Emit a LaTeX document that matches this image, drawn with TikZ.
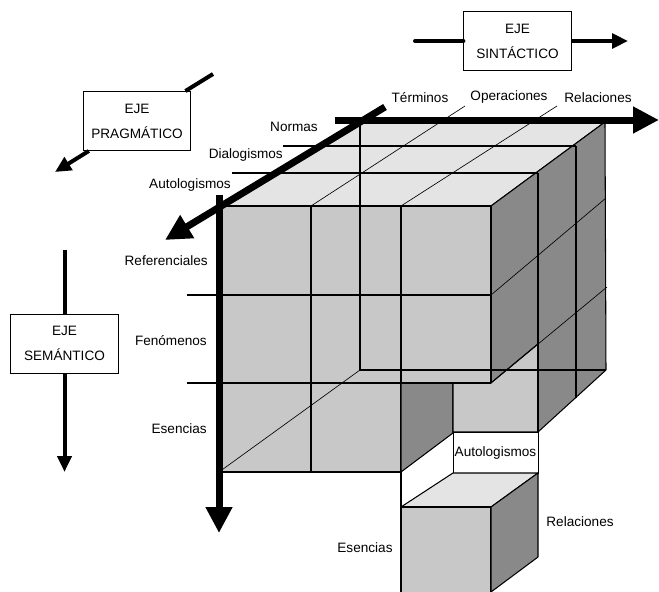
\documentclass[tikz,border=0pt]{standalone}
\usepackage{fontspec}
\usepackage{tikz}
\setmainfont{Liberation Sans}
\definecolor{color01}{HTML}{E4E4E4}
\definecolor{color02}{HTML}{C8C8C8}
\definecolor{color03}{HTML}{898989}
\usetikzlibrary{arrows.meta, calc}

\begin{document}
\begin{tikzpicture}[x=0.3mm, y=-0.3mm]

  \tikzstyle{cara} = [%
  draw=black,
  line join=round,
  line width=0.9pt,
  ];
  \tikzstyle{raya} = [%
  draw=black,
  line width=0.9pt,
  ];
  \tikzstyle{fina} = [%
  draw=black,
  line width=0.55pt,
  ];
  \tikzstyle{eje} = [%
  line width=2.1mm,
  -{Triangle[length=7.8mm, width=7.6mm]},
  ];
  \tikzstyle{ejefino} = [%
  line width=1.2mm,
  ];
  \tikzstyle{caja} = [%
  align=center,
  draw=black,
  fill=white,
  font=\fontsize{11.6}{21.3}\selectfont,
  line width=0.8pt,
  minimum height=17.7mm,
  minimum width=32.2mm,
  rectangle,
  ];
  \tikzstyle{rotulo} = [%
  font=\fontsize{11.6}{14}\selectfont,
  inner sep=0pt,
  ];

  \useasboundingbox (0,0) rectangle (659,592);
  \clip (0,0) rectangle (659,592);

  \filldraw[cara, fill=color01] (219,206) -- (360,122) -- (605,122) -- (491,206) -- cycle;
  \filldraw[cara, fill=color03] (491,206) -- (605,122) -- (606,370) -- (538,432)
    -- (538,344) -- (491,383) -- cycle;
  \filldraw[cara, fill=color02] (219,206) -- (491,206) -- (491,383) -- (401,383)
    -- (401,472) -- (219,472) -- cycle;
  \filldraw[cara, fill=color03] (401,383) -- (453,383) -- (453,433) -- (401,472) -- cycle;
  \filldraw[cara, fill=color02] (453,383) -- (491,383) -- (538,344) -- (538,432)
    -- (453,432) -- cycle;

  \draw[raya] (311,206) -- (311,472);
  \draw[raya] (401,206) -- (401,383);
  \draw[raya] (187,295) -- (491,295);
  \draw[raya] (187,383) -- (491,383);
  \draw[raya] (283,146) -- (576,146);
  \draw[raya] (232,173) -- (538,173);
  \draw[raya] (538,173) -- (538,432);
  \draw[raya] (576,146) -- (576,398);
  \draw[raya] (360,122) -- (360,370) -- (606,370);
  \draw[fina] (219,472) -- (360,370);
  \draw[fina] (311,206) -- (465,106);
  \draw[fina] (401,206) -- (557,106);
  \draw[fina] (491,295) -- (606,198);
  \draw[fina] (491,383) -- (607,287);
  \draw[raya] (401,472) -- (401,507);

  \node[draw=black, fill=white, line width=0.8pt, inner sep=0pt,
    minimum width=25.5mm, minimum height=12.3mm,
    font=\fontsize{11.6}{14}\selectfont] (autoCaja) at (495.5,452.5) {Autologismos};

  \filldraw[cara, fill=color01] (401,507) -- (453,473) -- (538,473) -- (491,507) -- cycle;
  \filldraw[cara, fill=color02] (401,507) -- (491,507) -- (491,620) -- (401,620) -- cycle;
  \filldraw[cara, fill=color03] (491,507) -- (538,473) -- (538,557) -- (491,592) -- cycle;

  \node[rotulo] (terminos) at (420,98) {Términos};
  \node[rotulo] (operaciones) at (509,97) {Operaciones};
  \node[rotulo] (relaciones) at (598,98) {Relaciones};
  \node[rotulo, anchor=east] (normas) at (318,127) {Normas};
  \node[rotulo, anchor=east] (dialogismos) at (283,155) {Dialogismos};
  \node[rotulo, anchor=east] (autologismos) at (231,185) {Autologismos};
  \node[rotulo, anchor=east] (referenciales) at (208,261) {Referenciales};
  \node[rotulo, anchor=east] (fenomenos) at (207,341) {Fenómenos};
  \node[rotulo, anchor=east] (esencias) at (207,429) {Esencias};
  \node[rotulo] (relacionesB) at (580,522) {Relaciones};
  \node[rotulo] (esenciasB) at (365,548) {Esencias};

  \coordinate (semArriba) at (219,195);
  \coordinate (semAbajo) at (219,533);
  \coordinate (pragArriba) at (385,107);
  \coordinate (pragAbajo) at (165,240);
  \coordinate (sinIzq) at (335,120);
  \coordinate (sinDer) at (659,120);
  \draw[eje] (semArriba) -- (semAbajo);
  \draw[eje] (pragArriba) -- (pragAbajo);
  \draw[eje] (sinIzq) -- (sinDer);

  \node[caja] (sinCaja) at (517.5,41) {EJE\\SINTÁCTICO};
  \node[caja] (pragCaja) at (137,121) {EJE\\PRAGMÁTICO};
  \node[caja] (semCaja) at (64.5,343.5) {EJE\\SEMÁNTICO};

  \coordinate (sinIni) at (415,41);
  \coordinate (sinFin) at (628,41);
  \coordinate (pragIni) at (213,74);
  \coordinate (pragFin) at (55,172);
  \coordinate (semIni) at (64.5,250);
  \coordinate (semFin) at (64.5,472);
  \draw[ejefino, line cap=round] (sinIni) -- (sinCaja);
  \draw[ejefino, -{Triangle[length=4.8mm, width=4.4mm]}] (sinCaja) -- (sinFin);
  \draw[ejefino] (pragIni) -- (pragCaja);
  \draw[ejefino, -{Triangle[length=4.8mm, width=4.4mm]}] (pragCaja) -- (pragFin);
  \draw[ejefino] (semIni) -- (semCaja);
  \draw[ejefino, -{Triangle[length=4.8mm, width=4.2mm]}] (semCaja) -- (semFin);

\end{tikzpicture}
\end{document}
